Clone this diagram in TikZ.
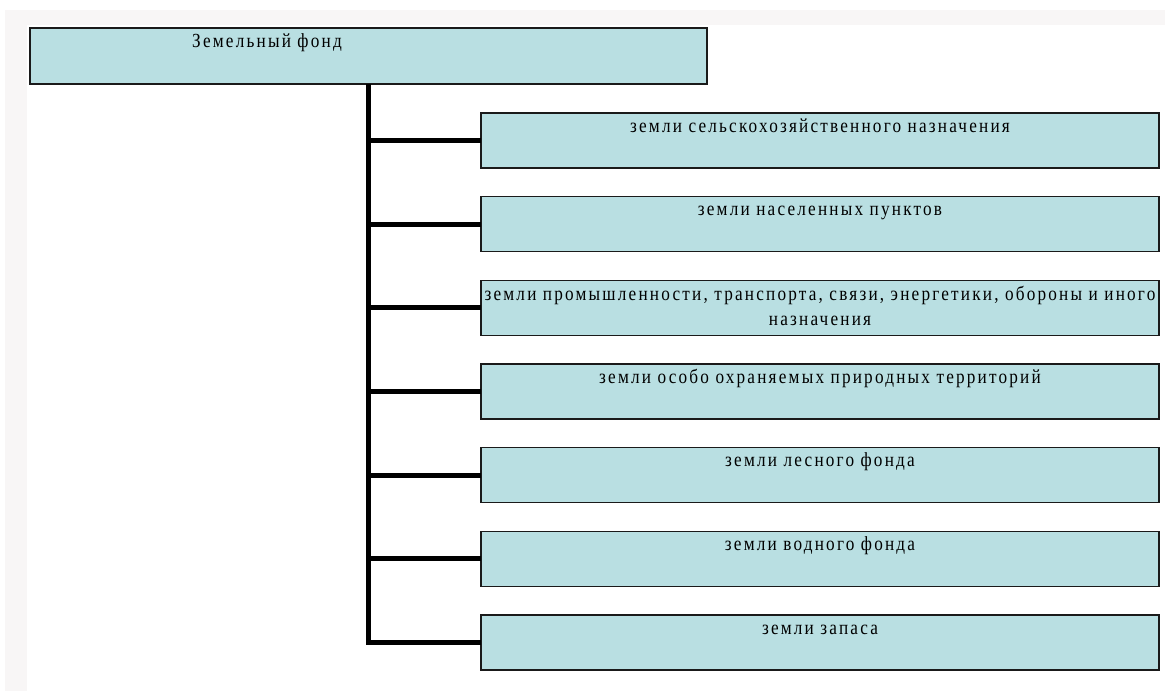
\documentclass[tikz,border=0pt]{standalone}
\usepackage{fontspec}
\setmainfont{Liberation Serif}
\newfontfamily\boxfont[LetterSpace=11,FakeStretch=0.86]{Liberation Serif}
\usetikzlibrary{shapes.misc}
\definecolor{boxfill}{HTML}{B9DFE2}
\definecolor{boxline}{HTML}{1A1A1A}
\definecolor{faint}{HTML}{F8F6F6}
\tikzset{
  box/.style={chamfered rectangle, chamfered rectangle xsep=5pt, chamfered rectangle ysep=5pt,
    draw=boxline, line width=1.6pt, fill=boxfill, minimum width=678pt, minimum height=55pt,
    inner sep=0pt, outer sep=0pt},
  topbox/.style={box, minimum width=677pt, minimum height=56pt},
  txt/.style={anchor=base, inner sep=0pt, font=\boxfont\fontsize{20}{25}\selectfont, text=black},
  conn/.style={line width=5pt, draw=black, line join=miter}
}
\begin{document}
\begin{tikzpicture}[x=1pt,y=-1pt]
\useasboundingbox (0,0) rectangle (1165,691);
\fill[white] (0,0) rectangle (1165,691);
\fill[faint] (5,10) rectangle (1165,25);
\fill[faint] (5,10) rectangle (27,691);
% boxes
\node[topbox] (top) at (368.5,56) {};
\node[txt] (ttop) at (267,47) {Земельный фонд};
\foreach \i/\name in {0/b1,1/b2,2/b3,3/b4,4/b5,5/b6,6/b7}{
  \node[box] (\name) at (820,{140.5+83.67*\i}) {};
}
\node[txt] (t1) at ([yshift=-19pt]b1.north) {земли сельскохозяйственного назначения};
\node[txt] (t2) at ([yshift=-19pt]b2.north) {земли населенных пунктов};
\node[txt] (t3) at ([yshift=-20pt]b3.north) {земли промышленности, транспорта, связи, энергетики, обороны и иного};
\node[txt] (t3b) at ([yshift=-45pt]b3.north) {назначения};
\node[txt] (t4) at ([yshift=-19pt]b4.north) {земли особо охраняемых природных территорий};
\node[txt] (t5) at ([yshift=-19pt]b5.north) {земли лесного фонда};
\node[txt] (t6) at ([yshift=-19pt]b6.north) {земли водного фонда};
\node[txt] (t7) at ([yshift=-19pt]b7.north) {земли запаса};
% connectors
\draw[conn] (top.south) |- (b7.west);
\foreach \name in {b1,b2,b3,b4,b5,b6}{
  \draw[conn] (top.south |- \name.west) -- (\name.west);
}
\end{tikzpicture}
\end{document}
